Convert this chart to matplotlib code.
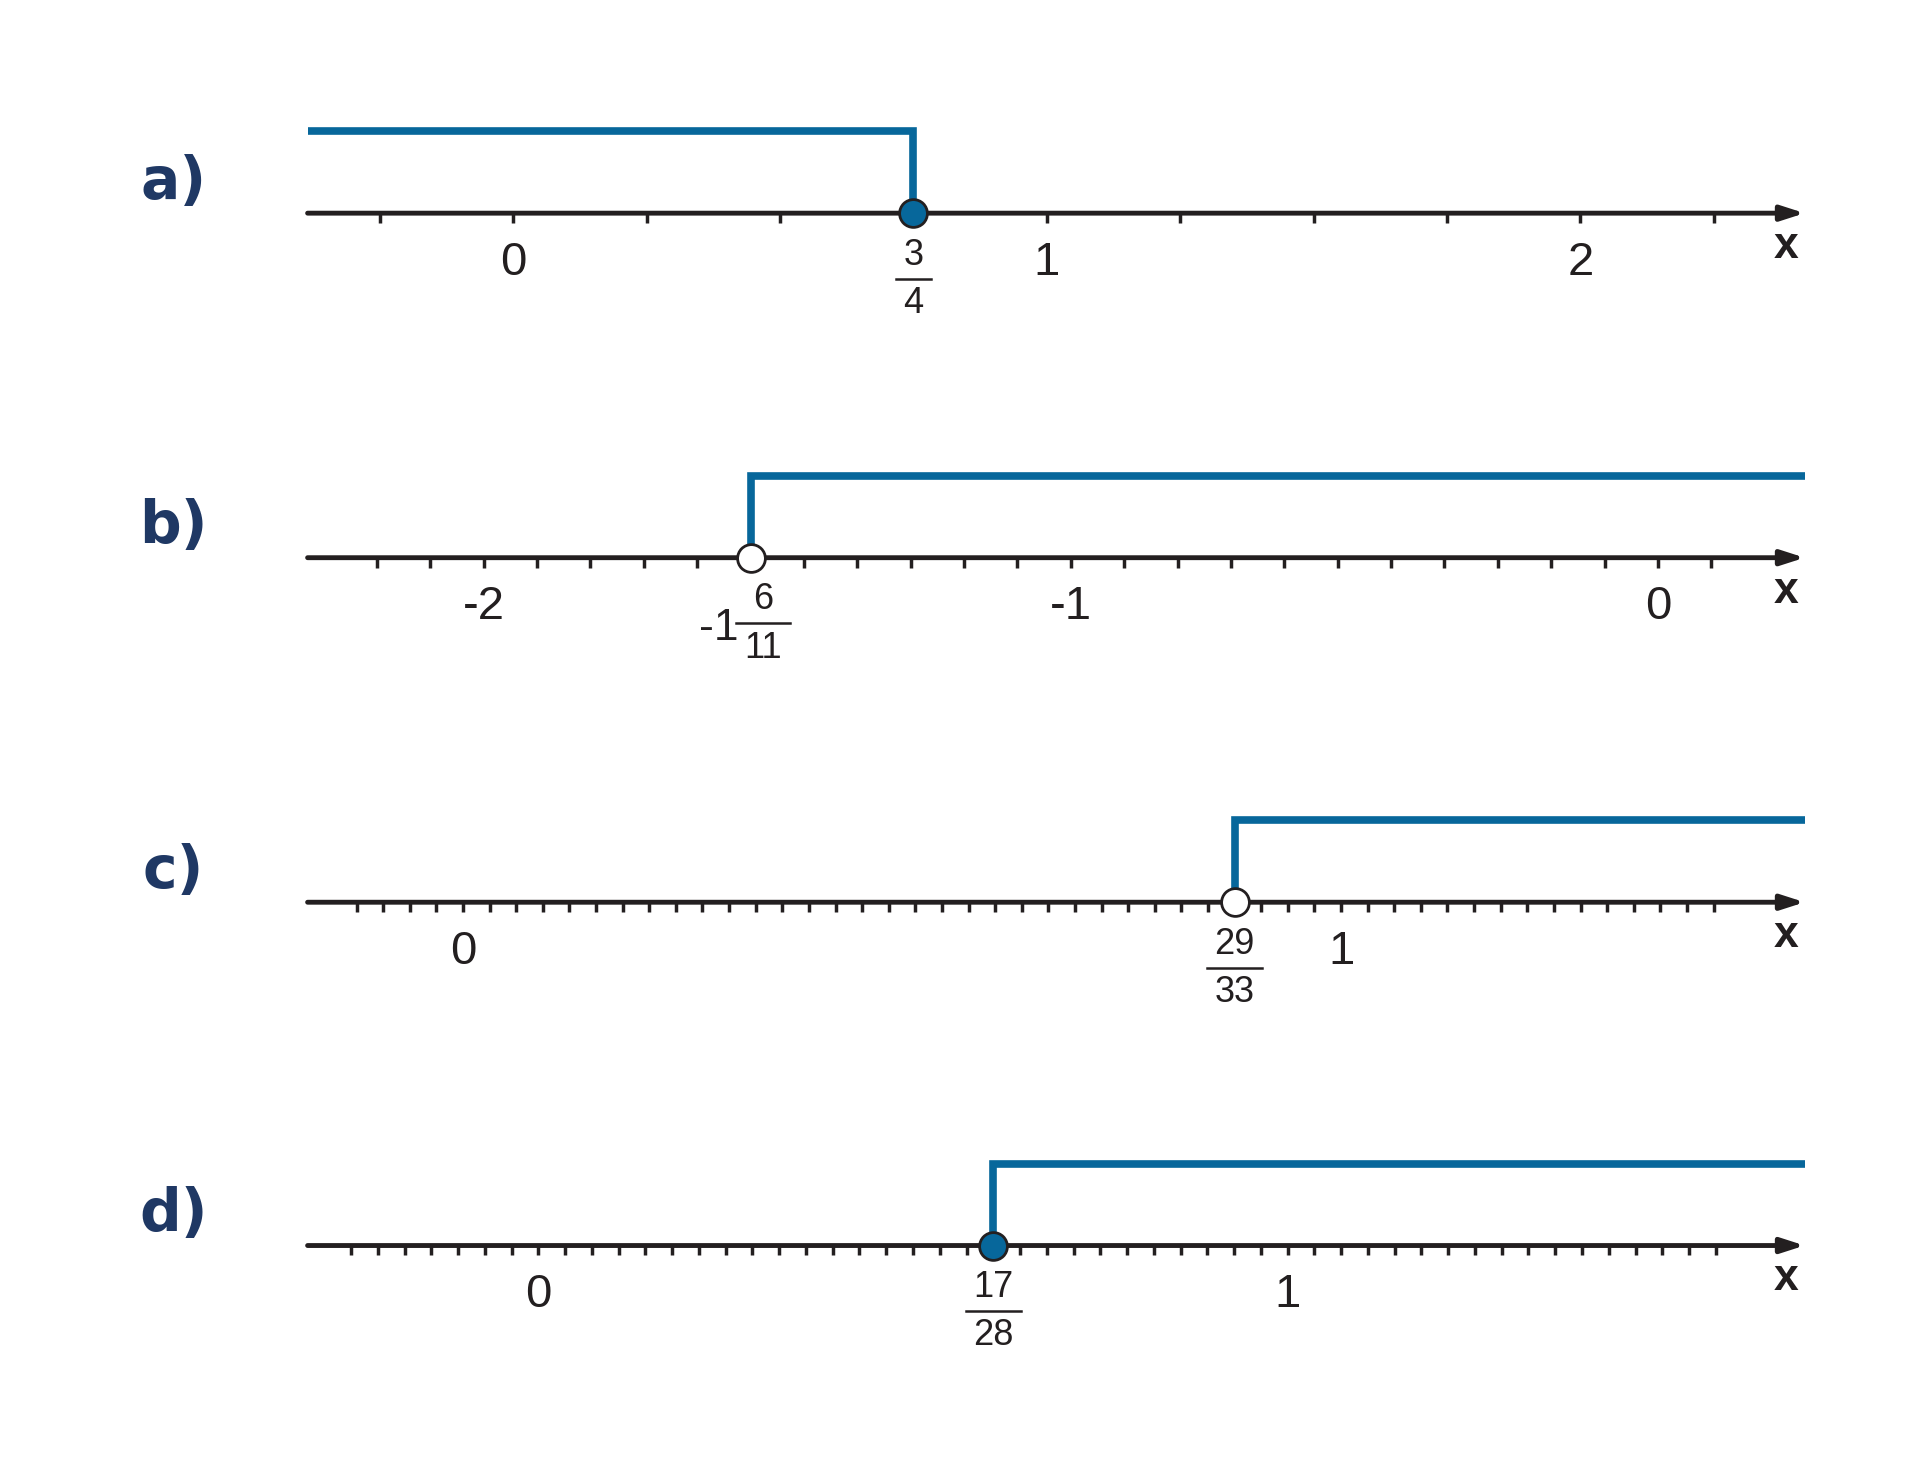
import matplotlib.pyplot as plt
import numpy as np

plt.rcParams['font.family'] = ['Liberation Sans', 'DejaVu Sans']

BLUE = '#07679b'
NAVY = '#1f3864'
BLACK = '#231f20'

# panel data
panels = ['a)', 'b)', 'c)', 'd)']
xlims = [(-0.385, 2.42), (-2.30, 0.25), (-0.177, 1.528), (-0.308, 1.69)]
tick_steps = [1 / 4, 1 / 11, 1 / 33, 1 / 28]
tick_ranges = [(-1, 9), (-24, 1), (-4, 47), (-7, 44)]   # in tick steps
int_labels = [[0, 1, 2], [-2, -1, 0], [0, 1], [0, 1]]
points = [3 / 4, -17 / 11, 29 / 33, 17 / 28]
closed = [True, False, False, True]
ray_left = [True, False, False, False]
frac_labels = [('', '3', '4'), ('-1', '6', '11'), ('', '29', '33'), ('', '17', '28')]

W, H = 1548, 1195  # reference layout units
axis_y = [172, 450, 728, 1005]
fig = plt.figure(figsize=(19.2, 14.81), dpi=100)

for i in range(4):
    left, right = 248 / W, 1455 / W
    ax = fig.add_axes([left, 1 - (axis_y[i] + 130) / H, right - left, 260 / H])
    ax.set_xlim(*xlims[i])
    ax.set_ylim(-130, 130)
    ax.axis('off')
    x0, x1 = xlims[i]
    ppu = (right - left) * W / (x1 - x0)  # ref px per unit

    ax.annotate('', xy=(x1, 0), xytext=(x0, 0),
                arrowprops=dict(arrowstyle='-|>,head_length=1.4,head_width=0.45',
                                lw=3.5, color=BLACK, shrinkA=0, shrinkB=0))
    ticks = np.arange(tick_ranges[i][0], tick_ranges[i][1] + 1) * tick_steps[i]
    for t in ticks:
        ax.plot([t, t], [0, -8], color=BLACK, lw=2.5, solid_capstyle='butt')
    for v in int_labels[i]:
        ax.text(v, -40, str(v), ha='center', va='center', fontsize=34, color=BLACK)
    ax.text(x1 - 15 / ppu, -27, 'x', ha='center', va='center', fontsize=32,
            fontweight='bold', color=BLACK)

    p = points[i]
    end = x0 if ray_left[i] else x1
    ax.plot([end, p, p], [66, 66, 0], color=BLUE, lw=5.5,
            solid_joinstyle='miter', solid_capstyle='butt')
    ax.plot([p], [0], 'o', ms=20, mec=BLACK, mew=2,
            mfc=BLUE if closed[i] else 'white', zorder=5)

    whole, num, den = frac_labels[i]
    fx = p + (10 / ppu if whole else 0)
    if whole:
        ax.text(fx - 20 / ppu, -57, whole, ha='right', va='center', fontsize=32, color=BLACK)
    bw = (14 if len(den) == 1 else 22) / ppu
    ax.text(fx, -34, num, ha='center', va='center', fontsize=26, color=BLACK)
    ax.plot([fx - bw, fx + bw], [-53, -53], color=BLACK, lw=1.8)
    ax.text(fx, -73, den, ha='center', va='center', fontsize=26, color=BLACK)

    fig.text(140 / W, 1 - (axis_y[i] - 25) / H, panels[i], ha='center', va='center',
             fontsize=42, fontweight='bold', color=NAVY, family='DejaVu Sans')

fig.savefig('out.png', dpi=100, facecolor='white')
